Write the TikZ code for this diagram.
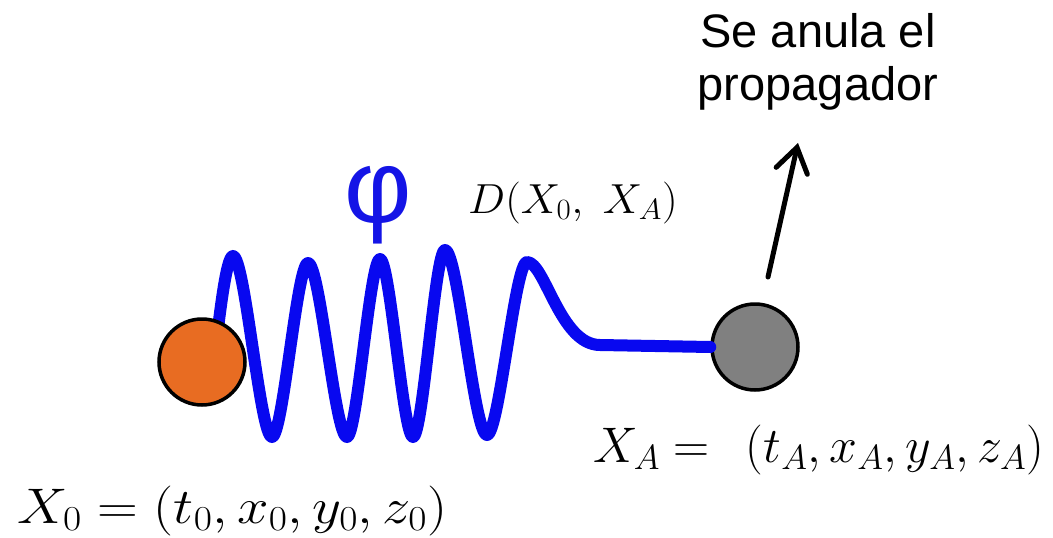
\RequirePackage{fix-cm}
\documentclass[tikz,border=0pt]{standalone}
\usepackage{fontspec}
\newfontfamily\arial{Liberation Sans}
\usetikzlibrary{arrows.meta}
\definecolor{wblue}{RGB}{8,8,240}
\definecolor{phiblue}{RGB}{20,20,230}
\definecolor{dotorange}{RGB}{232,108,34}
\definecolor{dotgray}{RGB}{128,128,128}
\tikzset{
  dot/.style={circle, draw=black, line width=3.5pt, minimum size=86pt, inner sep=0pt},
  wave/.style={draw=wblue, line width=12pt, line cap=round, line join=round},
  arr/.style={draw=black, line width=5pt, line cap=round, -{Straight Barb[length=24pt,width=32pt,line cap=round]}},
  mathlbl/.style={inner sep=0pt, anchor=base west},
  sans/.style={inner sep=0pt, anchor=base, font=\arial\fontsize{47}{56}\selectfont}
}
\begin{document}
\begin{tikzpicture}[x=1pt,y=-1pt]
\useasboundingbox (0,0) rectangle (1053,538);
% phi label
\node[inner sep=0pt, anchor=base, text=phiblue, font=\arial\fontsize{104}{110}\selectfont] (phi) at (378,222) {φ};
% propagator label
\node[mathlbl, font=\fontsize{42}{50}\selectfont, xscale=1.05] (d) at (468,213) {$D(X_0,\;X_A)$};
% wave
\coordinate (w0) at (214,362);
\node[dot, fill=dotgray] (a) at (755,347) {};
\draw[wave] (w0) .. controls (219,320) and (226,256) .. (233,256)
  .. controls (245,256) and (260,437) .. (272,437)
  .. controls (283,437) and (297,263) .. (308,263)
  .. controls (320,263) and (335,437) .. (347,437)
  .. controls (357,437) and (370,259) .. (380,259)
  .. controls (390,259) and (403,437) .. (413,437)
  .. controls (423,437) and (435,250) .. (445,250)
  .. controls (458,250) and (474,435) .. (487,435)
  .. controls (499,435) and (515,262) .. (527,262)
  .. controls (545,262) and (560,345) .. (600,345)
  -- (a.west);
\node[dot, fill=dotorange] (o) at (202,362) {};
% coordinates
\node[mathlbl, font=\fontsize{50}{60}\selectfont] (xa) at (593,462) {$X_A =\;\,(t_A, x_A, y_A, z_A)$};
\node[mathlbl, font=\fontsize{50}{60}\selectfont, xscale=1.13] (x0) at (17,523) {$X_0 = (t_0, x_0, y_0, z_0)$};
% annotation
\node[sans] (se) at (818,47) {Se anula el};
\node[sans] (prop) at (818,100) {propagador};
\coordinate (ar0) at (768,277);
\coordinate (ar1) at (798,143);
\draw[arr] (ar0) -- (ar1);
\end{tikzpicture}
\end{document}
